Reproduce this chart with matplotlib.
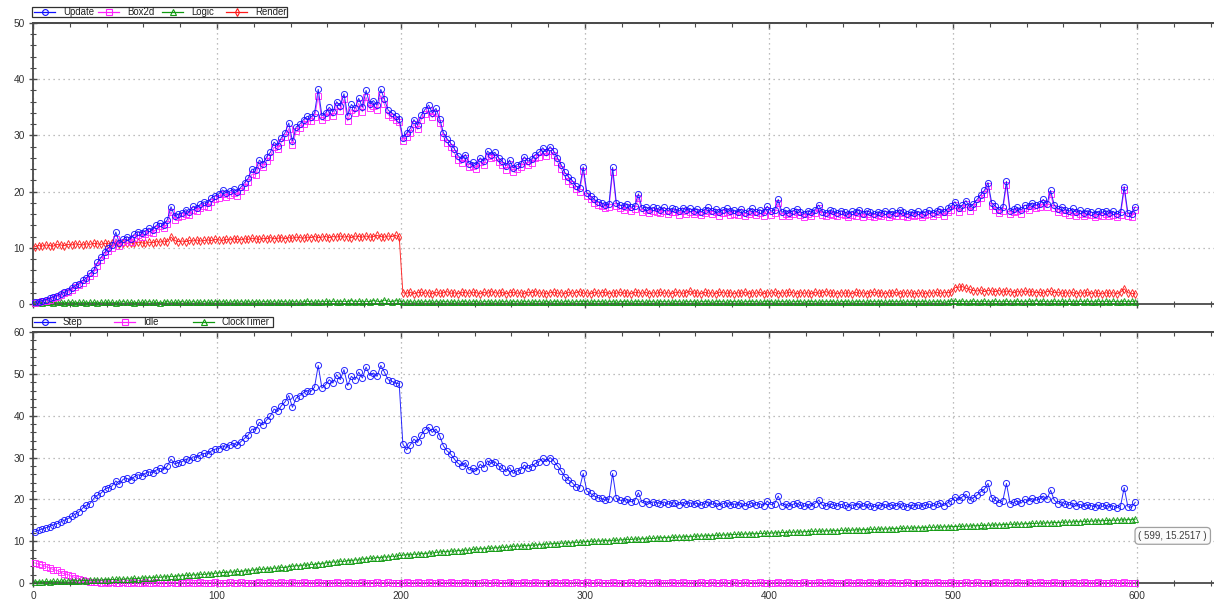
import matplotlib
matplotlib.use("Agg")
import matplotlib.pyplot as plt
import matplotlib.ticker as ticker
from matplotlib.lines import Line2D
from matplotlib.patches import Rectangle
import numpy as np

plt.rcParams["font.family"] = ["Liberation Sans", "DejaVu Sans"]

# ── data: one sample every 2 frames ─────────────────────────────
frames = np.arange(1, 600, 2)

update = np.array([
    0.3, 0.4, 0.6, 0.8, 1.0, 1.3, 1.5, 1.8, 2.1, 2.4,
    2.8, 3.3, 3.6, 4.2, 4.6, 5.5, 6.0, 7.4, 8.3, 9.2,
    10.0, 10.5, 12.8, 10.8, 11.5, 12.0, 11.6, 12.4, 12.9, 12.6,
    13.0, 13.5, 13.2, 14.0, 14.4, 14.1, 15.0, 17.3, 15.6, 16.0,
    16.2, 16.8, 16.4, 17.4, 17.1, 17.8, 18.2, 18.0, 18.9, 19.3,
    19.6, 20.3, 19.8, 20.1, 20.5, 20.0, 20.8, 21.6, 22.4, 24.0,
    23.8, 25.6, 25.0, 26.2, 27.0, 28.8, 28.2, 29.6, 30.5, 32.2,
    29.0, 31.5, 32.0, 32.8, 33.4, 33.2, 34.0, 38.2, 33.5, 34.0,
    35.0, 34.2, 36.0, 35.2, 37.4, 33.5, 35.5, 34.8, 36.6, 35.0,
    38.0, 35.6, 36.2, 35.4, 38.2, 36.4, 34.5, 34.0, 33.5, 33.0,
    29.6, 30.4, 31.2, 32.8, 31.8, 33.6, 34.6, 35.4, 34.0, 34.8,
    33.0, 30.5, 29.4, 28.6, 27.6, 26.4, 25.8, 26.6, 25.0, 25.2,
    24.8, 26.0, 25.4, 27.2, 26.6, 27.0, 26.0, 25.4, 24.6, 25.6,
    24.2, 24.8, 25.0, 26.2, 25.4, 25.8, 26.6, 27.0, 27.8, 27.0,
    28.0, 27.2, 26.0, 24.8, 23.4, 22.6, 22.0, 21.0, 20.6, 24.4,
    19.8, 19.2, 18.6, 18.2, 18.0, 17.6, 17.8, 24.3, 18.0, 17.6,
    17.4, 17.8, 17.2, 17.5, 19.6, 17.0, 17.3, 16.8, 17.2, 17.0,
    16.8, 17.2, 16.6, 17.0, 16.9, 16.5, 17.1, 16.7, 17.0, 16.6,
    16.9, 16.4, 16.8, 17.2, 16.6, 16.9, 16.3, 16.8, 17.0, 16.5,
    16.7, 16.4, 16.9, 16.2, 16.6, 17.0, 16.4, 16.8, 16.3, 17.4,
    16.5, 16.8, 18.6, 16.3, 16.7, 16.2, 16.6, 16.9, 16.4, 16.1,
    16.6, 16.3, 16.8, 17.6, 16.4, 16.2, 16.7, 16.5, 16.2, 16.6,
    16.4, 16.0, 16.5, 16.3, 16.8, 16.1, 16.6, 16.3, 16.0, 16.4,
    16.2, 16.6, 16.1, 16.5, 16.2, 16.8, 16.3, 16.0, 16.4, 16.2,
    16.5, 16.1, 16.4, 16.7, 16.2, 16.6, 16.9, 16.3, 17.0, 17.4,
    18.2, 17.0, 17.6, 18.4, 17.2, 17.8, 18.6, 19.4, 20.2, 21.6,
    18.0, 17.4, 16.8, 17.2, 21.8, 16.6, 16.9, 17.2, 16.7, 17.6,
    17.4, 18.0, 17.6, 17.8, 18.6, 17.8, 20.2, 17.6, 16.9, 17.3,
    16.8, 16.5, 17.0, 16.3, 16.7, 16.2, 16.6, 16.4, 16.1, 16.5,
    16.3, 16.6, 16.2, 16.5, 16.0, 16.4, 20.9, 16.2, 16.1, 17.3,
])

box2d = np.array([
    0.2, 0.3, 0.5, 0.6, 0.8, 1.1, 1.3, 1.6, 1.9, 2.1,
    2.5, 3.0, 3.3, 3.8, 4.2, 5.0, 5.6, 6.8, 7.8, 8.7,
    9.5, 10.0, 11.6, 10.3, 11.0, 11.4, 11.1, 11.8, 12.3, 12.0,
    12.4, 12.9, 12.6, 13.4, 13.8, 13.5, 14.3, 16.4, 15.0, 15.4,
    15.6, 16.1, 15.8, 16.7, 16.5, 17.1, 17.5, 17.3, 18.2, 18.6,
    18.9, 19.6, 19.1, 19.4, 19.8, 19.3, 20.1, 20.9, 21.7, 23.1,
    23.0, 24.8, 24.3, 25.5, 26.2, 27.9, 27.5, 28.8, 29.7, 31.2,
    28.3, 30.7, 31.3, 32.0, 32.6, 32.5, 33.2, 37.0, 32.7, 33.3,
    34.2, 33.4, 35.2, 34.4, 36.4, 32.6, 34.6, 34.0, 35.7, 34.2,
    36.8, 34.8, 35.3, 34.6, 37.1, 35.5, 33.7, 33.2, 32.8, 32.3,
    29.0, 29.7, 30.5, 32.0, 31.1, 32.8, 33.8, 34.5, 33.2, 34.0,
    32.2, 29.8, 28.7, 27.9, 26.9, 25.7, 25.1, 25.9, 24.3, 24.5,
    24.1, 25.3, 24.7, 26.4, 25.9, 26.2, 25.3, 24.7, 23.9, 24.9,
    23.5, 24.1, 24.3, 25.4, 24.7, 25.1, 25.9, 26.2, 27.0, 26.3,
    27.2, 26.5, 25.3, 24.1, 22.7, 21.9, 21.3, 20.4, 20.0, 23.6,
    19.2, 18.6, 18.0, 17.6, 17.4, 17.0, 17.2, 23.4, 17.4, 17.0,
    16.8, 17.2, 16.6, 16.9, 18.9, 16.4, 16.7, 16.2, 16.6, 16.4,
    16.2, 16.6, 16.0, 16.4, 16.3, 15.9, 16.5, 16.1, 16.4, 16.0,
    16.3, 15.8, 16.2, 16.6, 16.0, 16.3, 15.7, 16.2, 16.4, 15.9,
    16.1, 15.8, 16.3, 15.6, 16.0, 16.4, 15.8, 16.2, 15.7, 16.8,
    15.9, 16.2, 17.9, 15.7, 16.1, 15.6, 16.0, 16.3, 15.8, 15.5,
    16.0, 15.7, 16.2, 17.0, 15.8, 15.6, 16.1, 15.9, 15.6, 16.0,
    15.8, 15.4, 15.9, 15.7, 16.2, 15.5, 16.0, 15.7, 15.4, 15.8,
    15.6, 16.0, 15.5, 15.9, 15.6, 16.2, 15.7, 15.4, 15.8, 15.6,
    15.9, 15.5, 15.8, 16.1, 15.6, 16.0, 16.3, 15.7, 16.4, 16.8,
    17.6, 16.4, 17.0, 17.8, 16.6, 17.2, 18.0, 18.8, 19.6, 21.0,
    17.4, 16.8, 16.2, 16.6, 21.2, 16.0, 16.3, 16.6, 16.1, 17.0,
    16.8, 17.4, 17.0, 17.2, 18.0, 17.2, 19.6, 17.0, 16.3, 16.7,
    16.2, 15.9, 16.4, 15.7, 16.1, 15.6, 16.0, 15.8, 15.5, 15.9,
    15.7, 16.0, 15.6, 15.9, 15.4, 15.8, 20.3, 15.6, 15.5, 16.7,
])

logic = np.array([
    0.2, 0.3, 0.2, 0.3, 0.3, 0.2, 0.3, 0.3, 0.2, 0.3,
    0.3, 0.2, 0.3, 0.3, 0.2, 0.3, 0.3, 0.2, 0.3, 0.3,
    0.3, 0.3, 0.2, 0.3, 0.4, 0.3, 0.3, 0.2, 0.3, 0.3,
    0.3, 0.4, 0.3, 0.3, 0.2, 0.3, 0.4, 0.3, 0.3, 0.3,
    0.4, 0.3, 0.3, 0.4, 0.3, 0.3, 0.4, 0.3, 0.3, 0.4,
    0.3, 0.4, 0.3, 0.3, 0.4, 0.3, 0.4, 0.3, 0.4, 0.3,
    0.4, 0.3, 0.4, 0.4, 0.3, 0.4, 0.3, 0.4, 0.4, 0.3,
    0.4, 0.4, 0.3, 0.4, 0.5, 0.4, 0.3, 0.4, 0.4, 0.5,
    0.4, 0.5, 0.4, 0.4, 0.5, 0.4, 0.6, 0.4, 0.5, 0.4,
    0.5, 0.4, 0.6, 0.5, 0.4, 0.7, 0.5, 0.4, 0.6, 0.5,
    0.4, 0.3, 0.4, 0.3, 0.4, 0.3, 0.4, 0.4, 0.3, 0.4,
    0.3, 0.4, 0.4, 0.3, 0.4, 0.3, 0.4, 0.4, 0.3, 0.4,
    0.4, 0.3, 0.4, 0.4, 0.3, 0.4, 0.3, 0.4, 0.4, 0.3,
    0.4, 0.4, 0.3, 0.4, 0.4, 0.3, 0.4, 0.4, 0.3, 0.4,
    0.3, 0.4, 0.4, 0.3, 0.4, 0.4, 0.3, 0.4, 0.4, 0.4,
    0.4, 0.3, 0.4, 0.4, 0.4, 0.3, 0.4, 0.4, 0.3, 0.4,
    0.4, 0.4, 0.3, 0.4, 0.4, 0.4, 0.3, 0.4, 0.4, 0.3,
    0.4, 0.4, 0.4, 0.3, 0.4, 0.4, 0.3, 0.4, 0.4, 0.4,
    0.3, 0.4, 0.4, 0.4, 0.3, 0.4, 0.4, 0.4, 0.3, 0.4,
    0.4, 0.4, 0.3, 0.4, 0.4, 0.4, 0.4, 0.3, 0.4, 0.4,
    0.4, 0.3, 0.4, 0.4, 0.4, 0.3, 0.4, 0.4, 0.4, 0.3,
    0.4, 0.4, 0.4, 0.3, 0.4, 0.4, 0.4, 0.4, 0.3, 0.4,
    0.4, 0.4, 0.3, 0.4, 0.4, 0.4, 0.3, 0.4, 0.4, 0.4,
    0.4, 0.3, 0.4, 0.4, 0.4, 0.4, 0.3, 0.4, 0.4, 0.4,
    0.4, 0.4, 0.4, 0.3, 0.4, 0.4, 0.4, 0.3, 0.4, 0.5,
    0.5, 0.4, 0.5, 0.4, 0.4, 0.5, 0.4, 0.4, 0.5, 0.4,
    0.4, 0.5, 0.4, 0.4, 0.5, 0.4, 0.4, 0.5, 0.4, 0.4,
    0.5, 0.4, 0.6, 0.4, 0.5, 0.4, 0.4, 0.5, 0.4, 0.5,
    0.4, 0.5, 0.4, 0.4, 0.5, 0.4, 0.5, 0.4, 0.4, 0.5,
    0.4, 0.5, 0.4, 0.5, 0.4, 0.4, 0.5, 0.4, 0.5, 0.4,
])

render = np.array([
    10.2, 10.4, 10.3, 10.5, 10.4, 10.3, 10.6, 10.5, 10.4, 10.6,
    10.5, 10.7, 10.6, 10.5, 10.7, 10.6, 10.8, 10.7, 10.6, 10.8,
    10.7, 10.9, 10.8, 10.7, 10.9, 10.8, 10.9, 10.8, 11.0, 10.9,
    10.8, 11.0, 10.9, 11.1, 11.0, 11.2, 11.1, 11.9, 11.3, 11.1,
    11.2, 11.1, 11.3, 11.2, 11.4, 11.2, 11.3, 11.4, 11.3, 11.5,
    11.4, 11.3, 11.5, 11.4, 11.6, 11.5, 11.4, 11.6, 11.5, 11.7,
    11.6, 11.5, 11.7, 11.6, 11.8, 11.6, 11.7, 11.8, 11.6, 11.8,
    11.7, 11.9, 11.8, 11.7, 11.9, 11.8, 12.0, 11.8, 11.9, 12.0,
    11.8, 12.0, 11.9, 12.1, 11.9, 12.0, 11.8, 12.1, 12.0, 11.9,
    12.1, 11.9, 12.0, 12.2, 12.0, 11.9, 12.1, 12.0, 12.2, 12.0,
    2.0, 1.9, 2.1, 1.8, 2.0, 2.1, 1.9, 2.0, 1.8, 2.1,
    1.9, 2.0, 2.2, 1.9, 2.0, 1.8, 2.1, 2.0, 1.9, 2.1,
    2.0, 1.8, 2.1, 1.9, 2.2, 2.0, 1.9, 2.1, 1.8, 2.0,
    2.1, 1.9, 2.0, 1.8, 2.1, 2.0, 2.2, 1.9, 2.0, 1.8,
    2.0, 2.1, 1.9, 2.0, 1.8, 2.1, 1.9, 2.0, 2.2, 1.9,
    2.0, 1.8, 2.1, 1.9, 2.0, 2.1, 1.8, 2.0, 1.9, 2.1,
    1.9, 2.0, 1.8, 2.1, 2.0, 1.9, 2.1, 1.8, 2.0, 1.9,
    2.1, 1.9, 2.0, 1.8, 2.1, 2.0, 1.9, 2.0, 2.3, 1.9,
    2.0, 1.8, 2.1, 1.9, 2.0, 1.8, 2.1, 2.0, 1.9, 2.0,
    1.8, 2.0, 1.9, 2.1, 1.8, 2.0, 1.9, 2.1, 1.8, 2.0,
    1.9, 2.1, 1.8, 2.0, 1.9, 2.1, 2.0, 1.8, 2.0, 1.9,
    2.0, 1.8, 2.1, 1.9, 2.0, 2.2, 1.9, 2.0, 1.8, 2.0,
    1.9, 2.0, 1.8, 2.1, 1.9, 2.0, 1.8, 2.0, 2.1, 1.9,
    2.0, 1.8, 2.0, 1.9, 2.1, 1.8, 2.0, 1.9, 2.0, 1.8,
    1.9, 2.0, 1.8, 2.0, 1.9, 2.1, 1.9, 2.0, 2.0, 2.1,
    2.9, 3.0, 3.1, 2.8, 2.6, 2.4, 2.3, 2.5, 2.2, 2.4,
    2.3, 2.2, 2.4, 2.1, 2.3, 2.2, 2.0, 2.2, 2.1, 2.3,
    2.1, 2.2, 2.0, 2.1, 1.9, 2.2, 2.3, 2.0, 2.1, 1.9,
    2.0, 1.9, 2.1, 1.8, 2.0, 1.9, 2.1, 1.8, 2.0, 1.9,
    1.8, 2.0, 1.9, 2.0, 1.8, 2.1, 2.7, 2.0, 1.9, 1.8,
])

step = np.array([
    12.3, 12.6, 12.9, 13.2, 13.5, 13.9, 14.2, 14.6, 15.0, 15.4,
    15.9, 16.5, 17.0, 17.9, 18.6, 19.0, 20.2, 21.0, 21.5, 22.4,
    22.8, 23.2, 24.4, 23.6, 24.8, 25.0, 24.6, 25.4, 25.9, 25.6,
    26.2, 26.6, 26.3, 27.0, 27.4, 27.1, 28.0, 29.6, 28.4, 28.8,
    29.0, 29.6, 29.3, 30.2, 30.0, 30.6, 31.0, 30.8, 31.6, 32.0,
    32.1, 32.8, 32.4, 33.0, 33.4, 32.9, 33.8, 34.6, 35.4, 36.8,
    36.6, 38.4, 37.8, 39.0, 39.9, 41.6, 41.0, 42.4, 43.3, 44.8,
    42.0, 44.2, 44.8, 45.5, 46.0, 45.8, 46.8, 52.0, 46.6, 47.4,
    48.6, 47.8, 49.8, 48.6, 51.0, 47.2, 49.4, 48.6, 50.4, 49.0,
    51.6, 49.6, 50.2, 49.4, 52.0, 50.4, 48.6, 48.2, 47.8, 47.6,
    33.2, 31.8, 33.0, 34.4, 33.6, 35.4, 36.6, 37.2, 36.0, 36.8,
    35.2, 32.8, 31.6, 30.8, 29.6, 28.6, 28.0, 28.8, 27.0, 27.4,
    26.8, 28.4, 27.6, 29.2, 28.6, 29.0, 28.0, 27.4, 26.6, 27.6,
    26.2, 26.8, 27.0, 28.2, 27.4, 27.8, 28.6, 29.0, 29.8, 29.0,
    30.0, 29.2, 28.0, 26.8, 25.4, 24.6, 24.0, 23.0, 22.6, 26.2,
    22.0, 21.4, 20.8, 20.4, 20.2, 19.8, 20.0, 26.2, 20.2, 19.8,
    19.6, 20.0, 19.4, 19.7, 21.6, 19.2, 19.5, 19.0, 19.4, 19.2,
    19.0, 19.4, 18.8, 19.2, 19.1, 18.7, 19.3, 18.9, 19.2, 18.8,
    19.1, 18.6, 19.0, 19.4, 18.8, 19.1, 18.5, 19.0, 19.2, 18.7,
    18.9, 18.6, 19.1, 18.4, 18.8, 19.2, 18.6, 19.0, 18.5, 19.6,
    18.7, 19.0, 20.8, 18.5, 18.9, 18.4, 18.8, 19.1, 18.6, 18.3,
    18.8, 18.5, 19.0, 19.8, 18.6, 18.4, 18.9, 18.7, 18.4, 18.8,
    18.6, 18.2, 18.7, 18.5, 19.0, 18.3, 18.8, 18.5, 18.2, 18.6,
    18.4, 18.8, 18.3, 18.7, 18.4, 19.0, 18.5, 18.2, 18.6, 18.4,
    18.7, 18.3, 18.6, 18.9, 18.4, 18.8, 19.1, 18.5, 19.2, 19.6,
    20.6, 19.8, 20.6, 21.2, 19.8, 20.4, 21.0, 21.8, 22.4, 23.8,
    20.4, 19.8, 19.2, 19.6, 23.8, 19.0, 19.3, 19.6, 19.1, 20.0,
    19.6, 20.2, 19.8, 20.0, 20.8, 20.0, 22.2, 19.8, 19.0, 19.4,
    18.9, 18.6, 19.1, 18.4, 18.8, 18.3, 18.7, 18.5, 18.2, 18.6,
    18.3, 18.6, 18.2, 18.5, 18.0, 18.4, 22.8, 18.2, 18.1, 19.3,
])

idle = np.array([
    4.8, 4.5, 4.3, 3.9, 3.6, 3.2, 3.0, 2.6, 2.2, 2.0,
    1.6, 1.3, 1.0, 0.7, 0.5, 0.3, 0.2, 0.2, 0.1, 0.2,
    0.1, 0.2, 0.1, 0.1, 0.2, 0.1, 0.1, 0.2, 0.1, 0.1,
    0.2, 0.1, 0.1, 0.2, 0.1, 0.1, 0.1, 0.2, 0.1, 0.1,
    0.1, 0.1, 0.2, 0.1, 0.1, 0.2, 0.1, 0.1, 0.1, 0.2,
    0.1, 0.1, 0.1, 0.2, 0.1, 0.1, 0.2, 0.1, 0.1, 0.1,
    0.1, 0.2, 0.1, 0.1, 0.2, 0.1, 0.1, 0.2, 0.1, 0.1,
    0.2, 0.1, 0.1, 0.2, 0.1, 0.1, 0.1, 0.2, 0.1, 0.1,
    0.1, 0.1, 0.2, 0.1, 0.1, 0.2, 0.1, 0.1, 0.1, 0.2,
    0.1, 0.1, 0.1, 0.2, 0.1, 0.1, 0.2, 0.1, 0.1, 0.1,
    0.1, 0.2, 0.1, 0.1, 0.2, 0.1, 0.1, 0.2, 0.1, 0.1,
    0.2, 0.1, 0.1, 0.2, 0.1, 0.1, 0.1, 0.2, 0.1, 0.1,
    0.1, 0.1, 0.2, 0.1, 0.1, 0.2, 0.1, 0.1, 0.1, 0.2,
    0.1, 0.1, 0.1, 0.2, 0.1, 0.1, 0.2, 0.1, 0.1, 0.1,
    0.1, 0.2, 0.1, 0.1, 0.2, 0.1, 0.1, 0.2, 0.1, 0.1,
    0.2, 0.1, 0.1, 0.2, 0.1, 0.1, 0.1, 0.2, 0.1, 0.1,
    0.1, 0.1, 0.2, 0.1, 0.1, 0.2, 0.1, 0.1, 0.1, 0.2,
    0.1, 0.1, 0.1, 0.2, 0.1, 0.1, 0.2, 0.1, 0.1, 0.1,
    0.1, 0.2, 0.1, 0.1, 0.2, 0.1, 0.1, 0.2, 0.1, 0.1,
    0.2, 0.1, 0.1, 0.2, 0.1, 0.1, 0.1, 0.2, 0.1, 0.1,
    0.1, 0.1, 0.2, 0.1, 0.1, 0.2, 0.1, 0.1, 0.1, 0.2,
    0.1, 0.1, 0.1, 0.2, 0.1, 0.1, 0.2, 0.1, 0.1, 0.1,
    0.1, 0.2, 0.1, 0.1, 0.2, 0.1, 0.1, 0.2, 0.1, 0.1,
    0.2, 0.1, 0.1, 0.2, 0.1, 0.1, 0.1, 0.2, 0.1, 0.1,
    0.1, 0.1, 0.2, 0.1, 0.1, 0.2, 0.1, 0.1, 0.1, 0.2,
    0.1, 0.1, 0.1, 0.2, 0.1, 0.1, 0.2, 0.1, 0.1, 0.1,
    0.1, 0.2, 0.1, 0.1, 0.2, 0.1, 0.1, 0.2, 0.1, 0.1,
    0.2, 0.1, 0.1, 0.2, 0.1, 0.1, 0.1, 0.2, 0.1, 0.1,
    0.1, 0.1, 0.2, 0.1, 0.1, 0.2, 0.1, 0.1, 0.1, 0.2,
    0.1, 0.1, 0.1, 0.2, 0.1, 0.1, 0.2, 0.1, 0.1, 0.1,
])

clock_timer = np.array([
    0.30, 0.32, 0.31, 0.36, 0.34, 0.39, 0.37, 0.43, 0.41, 0.47,
    0.50, 0.55, 0.53, 0.60, 0.58, 0.66, 0.63, 0.71, 0.69, 0.78,
    0.80, 0.87, 0.84, 0.94, 0.91, 1.01, 0.98, 1.09, 1.06, 1.17,
    1.20, 1.29, 1.26, 1.38, 1.35, 1.48, 1.44, 1.58, 1.55, 1.70,
    1.75, 1.85, 1.82, 1.96, 1.92, 2.08, 2.04, 2.20, 2.17, 2.34,
    2.40, 2.52, 2.49, 2.65, 2.60, 2.78, 2.73, 2.93, 2.88, 3.08,
    3.15, 3.28, 3.25, 3.43, 3.38, 3.58, 3.53, 3.75, 3.70, 3.93,
    4.00, 4.14, 4.10, 4.30, 4.25, 4.46, 4.41, 4.64, 4.59, 4.83,
    4.90, 5.04, 5.00, 5.20, 5.15, 5.36, 5.31, 5.54, 5.49, 5.73,
    5.80, 5.93, 5.90, 6.09, 6.04, 6.24, 6.19, 6.40, 6.36, 6.58,
    6.65, 6.77, 6.74, 6.91, 6.87, 7.04, 7.00, 7.18, 7.14, 7.33,
    7.40, 7.51, 7.48, 7.64, 7.60, 7.76, 7.72, 7.89, 7.85, 8.03,
    8.10, 8.20, 8.17, 8.32, 8.28, 8.43, 8.39, 8.55, 8.51, 8.68,
    8.75, 8.84, 8.82, 8.95, 8.92, 9.06, 9.03, 9.17, 9.14, 9.29,
    9.35, 9.43, 9.41, 9.54, 9.51, 9.64, 9.61, 9.74, 9.71, 9.84,
    9.90, 9.97, 9.95, 10.06, 10.03, 10.14, 10.11, 10.22, 10.20, 10.31,
    10.35, 10.42, 10.40, 10.51, 10.48, 10.59, 10.56, 10.67, 10.65, 10.76,
    10.80, 10.86, 10.84, 10.94, 10.91, 11.01, 10.99, 11.09, 11.07, 11.16,
    11.20, 11.26, 11.24, 11.34, 11.31, 11.41, 11.39, 11.49, 11.47, 11.56,
    11.60, 11.65, 11.64, 11.73, 11.70, 11.80, 11.77, 11.86, 11.84, 11.92,
    11.95, 12.00, 11.99, 12.08, 12.05, 12.15, 12.12, 12.21, 12.19, 12.27,
    12.30, 12.34, 12.33, 12.41, 12.39, 12.47, 12.45, 12.53, 12.51, 12.58,
    12.60, 12.64, 12.63, 12.71, 12.69, 12.77, 12.75, 12.83, 12.81, 12.88,
    12.90, 12.94, 12.93, 13.01, 12.99, 13.07, 13.05, 13.13, 13.11, 13.18,
    13.20, 13.24, 13.23, 13.31, 13.29, 13.37, 13.35, 13.43, 13.41, 13.48,
    13.50, 13.55, 13.54, 13.63, 13.60, 13.70, 13.67, 13.76, 13.74, 13.82,
    13.85, 13.90, 13.89, 13.98, 13.95, 14.05, 14.02, 14.11, 14.09, 14.17,
    14.20, 14.25, 14.24, 14.33, 14.30, 14.40, 14.37, 14.46, 14.44, 14.52,
    14.55, 14.60, 14.59, 14.68, 14.65, 14.75, 14.72, 14.81, 14.79, 14.87,
    14.90, 14.95, 14.94, 15.03, 15.00, 15.10, 15.07, 15.16, 15.13, 15.2517,
])

BLUE, MAGENTA, GREEN, RED = "#1010ff", "#ff20ff", "#109a10", "#ff1a1a"
AXIS_COLOR = "#4a4a4a"
TEXT_COLOR = "#333333"

W, H = 1214, 602
fig = plt.figure(figsize=(W / 100, H / 100), dpi=100)


def px_rect(left, top, right, bottom):
    return [left / W, 1 - bottom / H, (right - left) / W, (bottom - top) / H]


def style_axes(ax, ymax, show_xlabels):
    ax.set_xlim(0, 641.8)
    ax.set_ylim(0, ymax)
    ax.xaxis.set_major_locator(ticker.MultipleLocator(100))
    ax.xaxis.set_minor_locator(ticker.MultipleLocator(20))
    ax.yaxis.set_major_locator(ticker.MultipleLocator(10))
    ax.yaxis.set_minor_locator(ticker.MultipleLocator(2))
    for side in ("left", "bottom", "top"):
        ax.spines[side].set_color(AXIS_COLOR)
        ax.spines[side].set_linewidth(1.3)
    ax.spines["right"].set_visible(False)
    ax.tick_params(which="major", direction="inout", length=6, width=1.0,
                   color=AXIS_COLOR, labelsize=7.3, labelcolor=TEXT_COLOR, pad=3)
    ax.tick_params(which="minor", direction="inout", length=4, width=0.8,
                   color=AXIS_COLOR)
    ax.tick_params(axis="x", labelbottom=show_xlabels)
    top = ax.secondary_xaxis("top")
    top.xaxis.set_major_locator(ticker.MultipleLocator(100))
    top.xaxis.set_minor_locator(ticker.MultipleLocator(20))
    top.tick_params(which="major", direction="in", length=4, width=1.0,
                    color=AXIS_COLOR, labeltop=False)
    top.tick_params(which="minor", direction="in", length=3, width=0.8,
                    color=AXIS_COLOR)
    top.spines["top"].set_color(AXIS_COLOR)
    top.spines["top"].set_linewidth(1.3)
    ax.grid(which="major", color="#a8a8a8", linestyle=(0, (1, 3)), linewidth=0.9)
    ax.set_axisbelow(True)


def draw_series(ax, y, color, marker, ms, z):
    ax.plot(frames, y, color=color, linewidth=0.7, marker=marker, markersize=ms,
            markerfacecolor="none", markeredgecolor=color, markeredgewidth=0.7,
            alpha=0.9, zorder=z, clip_on=False)


def draw_legend(box, entries):
    # box = (left, top, right, bottom) in pixels; entries = (label, color, marker, x)
    left, top, right, bottom = box
    fig.add_artist(Rectangle((left / W, 1 - bottom / H), (right - left) / W,
                             (bottom - top) / H, transform=fig.transFigure,
                             facecolor="white", edgecolor="#303030", linewidth=0.9))
    yc = 1 - (top + bottom) / 2 / H
    for label, color, marker, x0 in entries:
        fig.add_artist(Line2D([(x0 + 1) / W, (x0 + 22) / W], [yc, yc],
                              transform=fig.transFigure, color=color, linewidth=0.9))
        fig.add_artist(Line2D([(x0 + 11.5) / W], [yc], transform=fig.transFigure,
                              marker=marker, markersize=4.2, markerfacecolor="none",
                              markeredgecolor=color, markeredgewidth=0.8))
        fig.text((x0 + 30) / W, yc, label, fontsize=6.9, color="#202020",
                 ha="left", va="center")


# ── upper panel: Update / Box2d / Logic / Render ─────────────────
ax1 = fig.add_axes(px_rect(33, 23, W, 304))
style_axes(ax1, 50, False)
draw_series(ax1, logic, GREEN, "^", 3.8, 3)
draw_series(ax1, render, RED, "d", 3.8, 4)
draw_series(ax1, box2d, MAGENTA, "s", 4.2, 5)
draw_series(ax1, update, BLUE, "o", 4.4, 6)
draw_legend((32, 7, 287, 17), [
    ("Update", BLUE, "o", 33),
    ("Box2d", MAGENTA, "s", 97),
    ("Logic", GREEN, "^", 161),
    ("Render", RED, "d", 225),
])

# ── lower panel: Step / Idle / ClockTimer ───────────────────────
ax2 = fig.add_axes(px_rect(33, 332, W, 583))
style_axes(ax2, 60, True)
draw_series(ax2, idle, MAGENTA, "s", 4.2, 4)
draw_series(ax2, clock_timer, GREEN, "^", 3.8, 5)
draw_series(ax2, step, BLUE, "o", 4.4, 6)
draw_legend((32, 317, 273, 327), [
    ("Step", BLUE, "o", 33),
    ("Idle", MAGENTA, "s", 113),
    ("ClockTimer", GREEN, "^", 192),
])

# hover readout for the last ClockTimer sample
ax2.annotate(f"( {frames[-1]}, {clock_timer[-1]:.4f} )",
             xy=(frames[-1], clock_timer[-1]), xytext=(27, -12),
             textcoords="offset points", ha="center", va="center",
             fontsize=7, color="#404040", zorder=10,
             bbox=dict(boxstyle="round,pad=0.35,rounding_size=0.4",
                       facecolor="#fbfbfb", edgecolor="#a0a0a0", linewidth=0.9))

fig.savefig("out.png", dpi=100)
